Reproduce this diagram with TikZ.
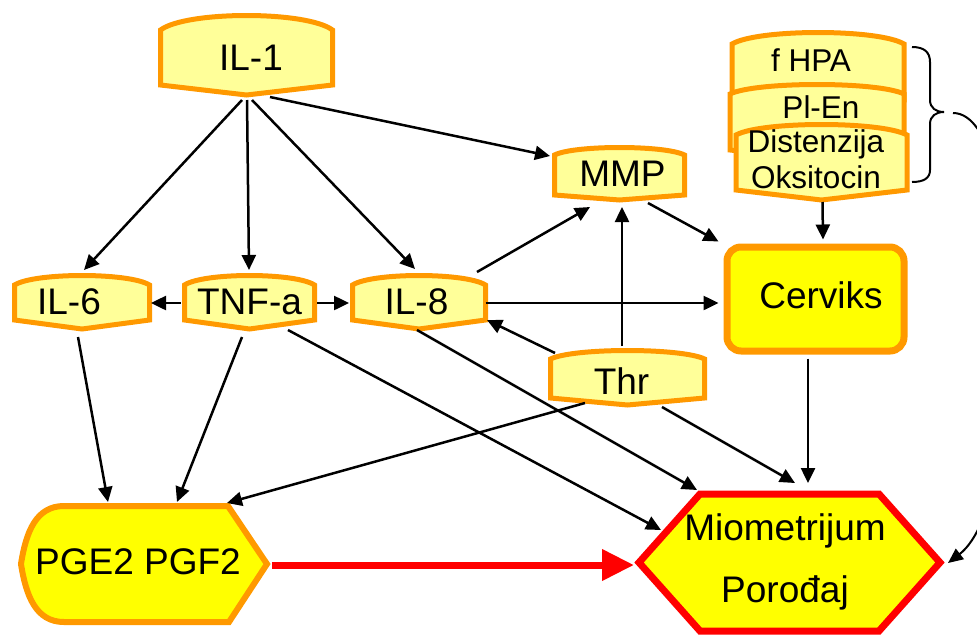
\documentclass[tikz,border=0pt]{standalone}
\usepackage{fontspec}
\setmainfont{Liberation Sans}
\usetikzlibrary{arrows.meta,calc}
\definecolor{lyel}{HTML}{FFFF99}
\definecolor{orng}{HTML}{FF9900}
\definecolor{yel}{HTML}{FFFF00}
\definecolor{rd}{HTML}{FF0000}
\tikzset{
  bnrline/.style={draw=orng,fill=lyel,line width=5pt},
  box/.style={inner sep=0pt,outer sep=0pt,draw=none},
  lbl/.style={inner sep=0pt,font=\fontsize{37}{44}\selectfont},
  slbl/.style={inner sep=0pt,font=\fontsize{31.5}{36}\selectfont},
  arr/.style={line width=2.5pt,-{Triangle[length=15pt,width=14pt]}},
  redarr/.style={draw=rd,line width=7pt,-{Triangle[length=32pt,width=30pt]}},
}
\newcommand\bnr[7]{%
  \draw[bnrline] ({#2-#3},#5) .. controls ({#2-0.7*#3},{#4-(#5-#4)/3}) and ({#2+0.7*#3},{#4-(#5-#4)/3}) .. ({#2+#3},#5) -- ({#2+#3},#6) -- (#2,#7) -- ({#2-#3},#6) -- cycle;
  \node[box,minimum width={2*#3},minimum height={#7-#4}] (#1) at (#2,{(#4+#7)/2}) {};
}
\begin{document}
\begin{tikzpicture}[x=1pt,y=-1pt]
\useasboundingbox (0,0) rectangle (977,635);
\clip (0,0) rectangle (977,635);

% banners
\bnr{il1}{246.5}{86}{15.5}{30}{85}{95}
\node[lbl] (il1t) at (251,57.5) {IL-1};
\bnr{il6}{82}{67.5}{275.5}{285}{320}{329}
\node[lbl] (il6t) at (69,301.5) {IL-6};
\bnr{tnf}{249.5}{65}{275.5}{285}{320}{329}
\node[lbl] (tnft) at (249.5,301.5) {TNF-a};
\bnr{il8}{419}{66.5}{275.5}{285}{320}{329}
\node[lbl] (il8t) at (416.5,301.5) {IL-8};
\bnr{mmp}{619.5}{65}{147.5}{155}{195}{200}
\node[lbl] (mmpt) at (622.5,173.5) {MMP};
\bnr{thr}{627.5}{77}{350.5}{359}{398}{405}
\node[lbl] (thrt) at (621.5,381) {Thr};

% stack
\bnr{stk1}{818}{86}{32.5}{44}{100}{108}
\bnr{stk2}{817}{87}{84.5}{94}{150}{160}
\bnr{stk3}{821.5}{85.5}{124.5}{135}{190}{200}
\node[slbl] (fhpa) at (811,60) {f HPA};
\node[slbl] (plen) at (821,107) {Pl-En};
\node[slbl,align=center] (dist) at (816,159.5) {Distenzija\\Oksitocin};

% brace
\draw[line width=2pt] (912,47) .. controls (924,47) and (930,52) .. (930,62) -- (930,100) .. controls (930,108) and (936,112) .. (944,112) .. controls (936,112) and (930,116) .. (930,124) -- (930,170) .. controls (930,178) and (924,182) .. (912,182);
\coordinate (bt) at (944,112);

% Cerviks
\node[draw=orng,fill=yel,line width=7pt,rounded corners=14pt,minimum width=177,minimum height=104,inner sep=0pt] (cerv) at (815.5,299) {};
\node[lbl] (cervt) at (821,295) {Cerviks};

% PGE2 PGF2
\draw[draw=orng,fill=yel,line width=6pt] (21,564) .. controls (26,532) and (36,506) .. (64,506) -- (228,506) -- (267,564) -- (229,622) -- (64,622) .. controls (36,622) and (26,596) .. cycle;
\node[box,minimum width=246,minimum height=116] (pge) at (144,564) {};
\node[lbl] (pget) at (138,562) {PGE2 PGF2};

% Miometrijum
\draw[draw=rd,fill=yel,line width=7pt] (639,562.5) -- (700,494) -- (879,494) -- (940,562.5) -- (879,631) -- (700,631) -- cycle;
\node[box,minimum width=301,minimum height=137] (miom) at (789.5,562.5) {};
\node[lbl,align=center,font=\fontsize{37}{62}\selectfont] (miomt) at (785,561.5) {Miometrijum\\Porođaj};

% arrows
\draw[arr] ($(il1.south)+(-4.5,5)$) -- ($(il6.north)+(2,-5.5)$);
\draw[arr] ($(il1.south)+(0.5,5)$) -- ($(tnf.north)+(-0.5,-5.5)$);
\draw[arr] ($(il1.south)+(5.5,5)$) -- ($(il8.north)+(-4,-6.5)$);
\draw[arr] ($(il1.south)+(23.5,2)$) -- ($(mmp.north west)+(-4.5,8.5)$);
\draw[arr] ($(il8.north east)+(-8.5,-3.5)$) -- ($(mmp.south)+(-29.5,7)$);
\draw[arr] ($(thr.north)+(-5.5,-4.5)$) -- ($(mmp.south)+(2.5,7)$);
\draw[arr] ($(mmp.south)+(28.5,3)$) -- ($(cerv.north west)+(-5,-2)$);
\draw[arr] ($(il8.east)+(0,0.75)$) -- ($(cerv.west)+(-5,4)$);
\draw[arr] ($(thr.north west)+(4.5,2.5)$) -- ($(il8.south east)+(1.5,-9)$);
\draw[arr] ($(stk3.south)+(1,2)$) -- ($(cerv.north)+(7.5,-4)$);
\draw[arr] ($(tnf.west)+(-3.5,0.75)$) -- ($(il6.east)+(1.5,0.75)$);
\draw[arr] ($(tnf.east)+(2.5,0.75)$) -- ($(il8.west)+(-3.5,0.75)$);
\draw[arr] ($(il6.south)+(-4,8)$) -- ($(pge.north)+(-36,-4)$);
\draw[arr] ($(tnf.south)+(-7.5,8)$) -- ($(pge.north)+(33,-4)$);
\draw[arr] ($(thr.south)+(-42.5,-2)$) -- ($(pge.north)+(83,-3)$);
\draw[arr] ($(tnf.south)+(38.5,1)$) -- ($(miom.north west)+(22,36)$);
\draw[arr] ($(il8.south)+(-2,1)$) -- ($(miom.north west)+(58,-4)$);
\draw[arr] ($(thr.south)+(34.5,2)$) -- ($(miom.north)+(5.5,-11)$);
\draw[arr] ($(cerv.south)+(-7.5,4)$) -- ($(miom.north)+(18.5,-11)$);
\draw[redarr] ($(pge.east)+(5,1)$) -- ($(miom.west)+(-5,2.5)$);
\draw[line width=2pt,-{Triangle[length=15pt,width=13pt]}] ($(bt)+(9,1)$) .. controls (1030,113) and (1030,500) .. ($(miom.east)+(8,0.5)$);
\end{tikzpicture}
\end{document}
